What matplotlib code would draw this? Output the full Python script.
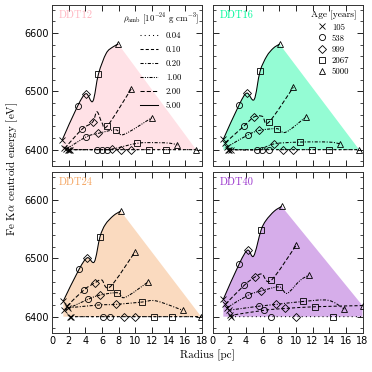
import numpy as np
import matplotlib
matplotlib.use('Agg')
import matplotlib.pyplot as plt
from matplotlib.path import Path
from matplotlib.patches import PathPatch
from matplotlib.lines import Line2D
from matplotlib.ticker import MultipleLocator

plt.rcParams['mathtext.fontset'] = 'cm'
plt.rcParams['axes.unicode_minus'] = False
SERIF = ['cmr10', 'DejaVu Serif']

densities = ['0.04', '0.10', '0.20', '1.00', '2.00', '5.00']
ages = ['105', '538', '999', '2067', '5000']
age_markers = ['x', 'o', 'D', 's', '^']
models = ['DDT12', 'DDT16', 'DDT24', 'DDT40']
model_colors = ['#ffb6c1', '#00fa9a', '#f4a460', '#9932cc']
fill_alpha = [0.4, 0.42, 0.4, 0.4]
line_styles = {'0.04': (0, (1, 3)), '0.10': (0, (3, 2)), '0.20': (0, (3, 1.5, 1, 1.5)),
               '1.00': (0, (3, 1.2, 1, 1.2, 1, 1.2)), '2.00': (0, (4, 2)), '5.00': '-'}

# Radius [pc] and centroid energy [eV] at ages 105, 538, 999, 2067, 5000 yr
ddt12_r = {'5.00': [1.24, 3.08, 4.08, 5.58, 7.96], '2.00': [1.5, 3.6, 4.86, 6.66, 9.5],
           '1.00': [1.7, 4.12, 5.56, 7.66, 12.0], '0.20': [1.9, 5.36, 7.16, 10.26, 15.06],
           '0.10': [2.0, 5.96, 8.24, 11.64, 17.3], '0.04': [2.2, 6.56, 9.44, 13.64, 20.0]}
ddt12_e = {'5.00': [6417, 6475, 6496, 6530, 6581], '2.00': [6402, 6435, 6447, 6441, 6504],
           '1.00': [6401, 6422, 6428, 6434, 6455], '0.20': [6400, 6400, 6401, 6411, 6408],
           '0.10': [6400, 6400, 6400, 6400, 6400], '0.04': [6400, 6400, 6400, 6400, 6400]}
ddt16_r = {'5.00': [1.3, 3.2, 4.12, 5.7, 8.05], '2.00': [1.54, 3.74, 4.98, 6.76, 9.7],
           '1.00': [1.7, 4.2, 5.62, 7.74, 11.2], '0.20': [1.9, 5.34, 7.42, 10.5, 15.3],
           '0.10': [2.0, 5.94, 8.42, 11.94, 17.6], '0.04': [2.2, 6.82, 9.7, 14.02, 20.0]}
ddt16_e = {'5.00': [6418, 6477, 6497, 6534, 6581], '2.00': [6412, 6440, 6456, 6447, 6507],
           '1.00': [6404, 6425, 6433, 6436, 6456], '0.20': [6400, 6400, 6410, 6413, 6410],
           '0.10': [6400, 6400, 6400, 6400, 6400], '0.04': [6400, 6400, 6400, 6400, 6400]}
ddt24_r = {'5.00': [1.36, 3.24, 4.24, 5.76, 8.24], '2.00': [1.8, 3.84, 5.16, 6.96, 9.96],
           '1.00': [1.5, 4.36, 5.76, 7.84, 11.48], '0.20': [1.9, 5.56, 7.64, 10.76, 15.68],
           '0.10': [2.16, 6.08, 8.64, 12.24, 17.9], '0.04': [2.3, 6.96, 9.96, 14.36, 20.0]}
ddt24_e = {'5.00': [6427, 6481, 6501, 6537, 6581], '2.00': [6418, 6446, 6458, 6451, 6511],
           '1.00': [6411, 6430, 6437, 6441, 6459], '0.20': [6415, 6420, 6421, 6425, 6411],
           '0.10': [6400, 6400, 6400, 6400, 6400], '0.04': [6400, 6400, 6400, 6400, 6400]}
ddt40_r = {'5.00': [1.3, 3.22, 4.22, 5.82, 8.3], '2.00': [1.54, 3.82, 5.1, 7.02, 10.02],
           '1.00': [1.7, 4.3, 5.82, 8.02, 11.54], '0.20': [1.94, 5.62, 7.62, 10.82, 15.82],
           '0.10': [2.1, 6.22, 8.7, 12.3, 18.0], '0.04': [2.2, 7.02, 10.02, 14.42, 20.0]}
ddt40_e = {'5.00': [6430, 6491, 6514, 6548, 6589], '2.00': [6421, 6454, 6468, 6462, 6522],
           '1.00': [6415, 6437, 6444, 6451, 6471], '0.20': [6411, 6418, 6421, 6426, 6413],
           '0.10': [6402, 6411, 6414, 6417, 6419], '0.04': [6400, 6400, 6400, 6400, 6400]}

# intermediate points of the curves (radius, energy) between marked ages
ddt12_knots = {'5.00': [(4.9, 6483), (6.5, 6565), (7.3, 6576)], '2.00': [(5.4, 6465), (6.0, 6446)],
               '1.00': [(8.6, 6426)], '0.20': [(12.5, 6412), (14.2, 6411)], '0.10': [], '0.04': []}
ddt16_knots = {'5.00': [(5.0, 6486), (6.5, 6560), (7.3, 6574)], '2.00': [(6.0, 6457)],
               '1.00': [(8.8, 6430)], '0.20': [(14.0, 6413)], '0.10': [], '0.04': []}
ddt24_knots = {'5.00': [(5.08, 6494), (6.4, 6558), (7.36, 6573)], '2.00': [(5.96, 6463)],
               '1.00': [(8.76, 6433)], '0.20': [(12.5, 6427)], '0.10': [], '0.04': []}
ddt40_knots = {'5.00': [(4.94, 6504), (6.42, 6565), (7.42, 6581)], '2.00': [(5.94, 6473)],
               '1.00': [(8.94, 6440), (10.5, 6462)], '0.20': [(13.9, 6428)], '0.10': [], '0.04': []}

panel_r = [ddt12_r, ddt16_r, ddt24_r, ddt40_r]
panel_e = [ddt12_e, ddt16_e, ddt24_e, ddt40_e]
panel_knots = [ddt12_knots, ddt16_knots, ddt24_knots, ddt40_knots]


def curve_points(r, e, knots):
    pts = sorted(list(zip(r, e)) + list(knots))
    return np.array(pts, dtype=float)


def smooth_segments(pts):
    """Catmull-Rom curve through pts, as cubic Bezier vertices (without first MOVETO)."""
    n = len(pts)
    verts = []
    for i in range(n - 1):
        p0 = pts[max(i - 1, 0)]
        p1 = pts[i]
        p2 = pts[i + 1]
        p3 = pts[min(i + 2, n - 1)]
        c1 = p1 + (p2 - p0) / 6.0
        c2 = p2 - (p3 - p1) / 6.0
        verts += [c1, c2, p2]
    return verts


def smooth_path(pts):
    verts = [pts[0]] + smooth_segments(pts)
    codes = [Path.MOVETO] + [Path.CURVE4] * (len(verts) - 1)
    return Path(verts, codes)


def upper_hull(points):
    pts = sorted(points)
    hull = []
    for p in pts:
        while len(hull) >= 2:
            (x1, y1), (x2, y2) = hull[-2], hull[-1]
            if (x2 - x1) * (p[1] - y1) - (y2 - y1) * (p[0] - x1) >= 0:
                hull.pop()
            else:
                break
        hull.append(p)
    return hull


fig = plt.figure(figsize=(3.72, 3.72), dpi=100)
W, H = 372.0, 372.0
boxes = [(52, 5, 150, 161), (212.5, 5, 150, 161), (52, 172, 150, 161), (212.5, 172, 150, 161)]
axes = []
for (x0, y0, w, h) in boxes:
    axes.append(fig.add_axes([x0 / W, 1 - (y0 + h) / H, w / W, h / H]))

for k, ax in enumerate(axes):
    rr, ee, kn = panel_r[k], panel_e[k], panel_knots[k]
    # envelope fill
    top = curve_points(rr['5.00'], ee['5.00'], kn['5.00'])
    ends = [(rr[d][-1], ee[d][-1]) for d in densities if rr[d][-1] <= 18.3]
    peak = (rr['5.00'][-1], ee['5.00'][-1])
    hull = upper_hull([p for p in ends if p[0] >= peak[0]])
    verts = [top[0]] + smooth_segments(top)
    codes = [Path.MOVETO] + [Path.CURVE4] * (len(verts) - 1)
    for p in hull[1:]:
        verts.append(p); codes.append(Path.LINETO)
    verts.append((hull[-1][0], 6400)); codes.append(Path.LINETO)
    verts.append((top[0][0], 6400)); codes.append(Path.LINETO)
    verts.append(top[0]); codes.append(Path.CLOSEPOLY)
    ax.add_patch(PathPatch(Path(verts, codes), facecolor=model_colors[k], alpha=fill_alpha[k],
                           edgecolor='none', zorder=1))
    for d in densities:
        pts = curve_points(rr[d], ee[d], kn[d])
        ax.add_patch(PathPatch(smooth_path(pts), fill=False, edgecolor='black', lw=0.75,
                               linestyle=line_styles[d], zorder=2))
        for a in range(len(ages)):
            ax.plot(rr[d][a], ee[d][a], marker=age_markers[a], ms=4.4 if age_markers[a] != 'D' else 3.8,
                    mfc='none', mec='black', mew=0.6, ls='none', zorder=3, clip_on=True)
    ax.set_xlim(0, 18)
    ax.set_ylim(6372, 6648)
    ax.xaxis.set_major_locator(MultipleLocator(2))
    ax.yaxis.set_major_locator(MultipleLocator(100))
    ax.yaxis.set_minor_locator(MultipleLocator(20))
    ax.tick_params(which='both', direction='in', top=True, right=True, labelsize=7, pad=2)
    ax.tick_params(which='major', length=4, width=0.6)
    ax.tick_params(which='minor', length=2, width=0.5)
    for s in ax.spines.values():
        s.set_linewidth(0.7)
        s.set_color('#333333')
    if k in (1, 3):
        ax.set_yticklabels([])
    if k in (0, 1):
        ax.set_xticklabels([])
    ax.text(0.045, 0.935, models[k], transform=ax.transAxes, color=model_colors[k],
            fontsize=7.5, family=SERIF, va='center', ha='left')

# legends
h1 = [Line2D([], [], color='black', lw=0.75, linestyle=line_styles[d]) for d in densities]
leg1 = axes[0].legend(h1, densities, loc='upper right', bbox_to_anchor=(1.02, 1.0), frameon=False,
                      title=r'$\rho_\mathrm{amb}$ [$10^{-24}$ g cm$^{-3}$]', fontsize=6.3,
                      title_fontsize=6.3, handlelength=2.0, handletextpad=0.9, labelspacing=0.62,
                      borderaxespad=0.3, prop={'family': SERIF, 'size': 6.3})
plt.setp(leg1.get_title(), family=SERIF)
h2 = [Line2D([], [], color='black', marker=m, mfc='none', mec='black', mew=0.6,
             ms=4.4 if m != 'D' else 3.8, ls='none') for m in age_markers]
leg2 = axes[1].legend(h2, ages, loc='upper right', bbox_to_anchor=(1.0, 1.0), frameon=False,
                      title='Age [years]', handlelength=1.0, handletextpad=0.6, labelspacing=0.3,
                      borderaxespad=0.3, prop={'family': SERIF, 'size': 6.3}, title_fontsize=6.8)
plt.setp(leg2.get_title(), family=SERIF)

fig.text(12 / W, 1 - 169 / H, r'Fe K$\alpha$ centroid energy [eV]', rotation=90, ha='center',
         va='center', fontsize=8, family=SERIF)
fig.text(207 / W, 1 - 355 / H, 'Radius [pc]', ha='center', va='center', fontsize=8, family=SERIF)

fig.savefig('out.png', dpi=100)
